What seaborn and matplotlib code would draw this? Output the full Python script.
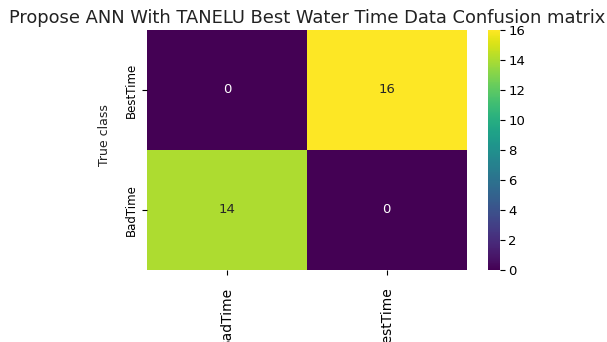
import numpy as np
import pandas as pd
import seaborn as sns
import matplotlib
matplotlib.use("Agg")
import matplotlib.pyplot as plt

row_labels = ["BestTime", "BadTime"]
col_labels = ["BadTime", "BestTime"]
counts = [[0, 16],
          [14, 0]]

df = pd.DataFrame(counts, index=row_labels, columns=col_labels)

fig = plt.figure(figsize=(6.07, 3.42), dpi=100)
ax = fig.add_axes([0.242, 0.2105, 0.527, 0.702])
cax = fig.add_axes([0.804, 0.2105, 0.0198, 0.702])

sns.heatmap(df, annot=True, fmt="d", cmap="viridis", ax=ax, cbar_ax=cax,
            annot_kws={"fontsize": 9.5})
ax.set_title("Propose ANN With TANELU Best Water Time Data Confusion matrix",
             fontsize=12.85, color="#222222", pad=5)
ax.set_ylabel("True class", fontsize=9, color="#222222")
ax.yaxis.set_label_coords(-0.112, 0.56)
ax.set_xlabel("")
ax.tick_params(axis="y", labelsize=8.5, pad=3)
ax.tick_params(axis="x", labelsize=10, pad=8.5)
ax.set_xticklabels(col_labels, rotation=90)
ax.set_yticklabels(row_labels, rotation=90, va="center")
cax.tick_params(labelsize=9.5, pad=2.5)

fig.savefig("out.png", dpi=100)
